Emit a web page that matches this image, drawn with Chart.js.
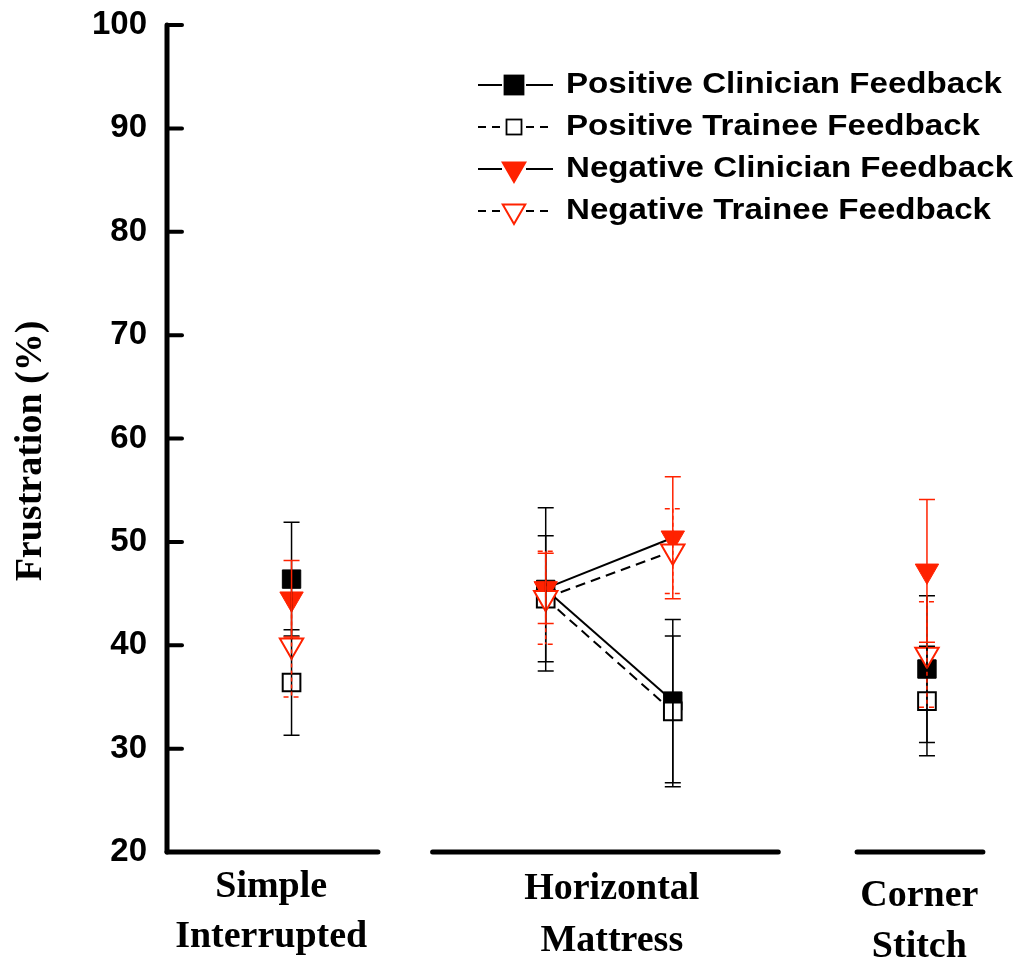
<!DOCTYPE html>
<html>
<head>
<meta charset="utf-8">
<script src="https://cdn.jsdelivr.net/npm/chart.js@4.4.0/dist/chart.umd.min.js"></script>
<style>
  html, body { margin: 0; padding: 0; background: #ffffff; }
  canvas { display: block; }
</style>
</head>
<body>
<canvas id="chart" width="1021" height="959"></canvas>
<script>
// ---- data ----
const techniqueLabels = [['Simple', 'Interrupted'], ['Horizontal', 'Mattress'], ['Corner', 'Stitch']];
// x position of each measurement (Horizontal Mattress has two measurements)
const xPositions = [0, 2, 3, 5];
const seriesNames = [
  'Positive Clinician Feedback',
  'Positive Trainee Feedback',
  'Negative Clinician Feedback',
  'Negative Trainee Feedback'
];
const posClinician    = [46.4, 45.4, 34.6, 37.7];
const posClinicianErr = [5.5, 7.9, 7.9, 7.1];
const posTrainee      = [36.4, 44.5, 33.6, 34.6];
const posTraineeErr   = [5.1, 6.1, 7.3, 5.3];
const negClinician    = [44.5, 45.5, 50.4, 47.2];
const negClinicianErr = [3.7, 3.4, 5.9, 6.9];
const negTrainee      = [40.0, 44.6, 49.1, 39.1];
const negTraineeErr   = [5.0, 4.5, 4.1, 5.1];
const yTickValues = [20, 30, 40, 50, 60, 70, 80, 90, 100];
const yTitle = 'Frustration (%)';

// ---- styling ----
const RED = '#ff2200';
const X_MIN = -0.98, X_MAX = 5.618;
const axisSegments = [[-0.98, 0.68], [1.11, 3.83], [4.45, 5.44]];
const labelAnchors = [
  { x: -0.16, y: [897, 947] },
  { x: 2.52, y: [899, 951] },
  { x: 4.94, y: [906, 957] }
];
const errStyles = [
  { color: '#000', dash: [] },
  { color: '#000', dash: [] },
  { color: RED, dash: [] },
  { color: RED, dash: [4, 3] }
];
const errors = [posClinicianErr, posTraineeErr, negClinicianErr, negTraineeErr];

function pts(values) {
  return values.map((v, i) => ({ x: xPositions[i], y: v }));
}
// only the two Horizontal Mattress measurements are joined by a line
const joinSegment = ctx => (ctx.p0DataIndex === 1 ? '#000' : 'rgba(0,0,0,0)');

const datasets = [
  {
    label: seriesNames[0], data: pts(posClinician), order: 3,
    pointStyle: 'rect', pointRadius: 13, pointBackgroundColor: '#000', pointBorderColor: '#000', pointBorderWidth: 1,
    borderColor: '#000', borderWidth: 2, segment: { borderColor: joinSegment }
  },
  {
    label: seriesNames[1], data: pts(posTrainee), order: 2,
    pointStyle: 'rect', pointRadius: 12.5, pointBackgroundColor: '#fff', pointBorderColor: '#000', pointBorderWidth: 2,
    borderColor: '#000', borderWidth: 2, borderDash: [10, 6], segment: { borderColor: joinSegment }
  },
  {
    label: seriesNames[2], data: pts(negClinician), order: 1,
    pointStyle: 'triangle', pointRotation: 180, pointRadius: 13.5, pointBackgroundColor: RED, pointBorderColor: RED, pointBorderWidth: 1,
    borderColor: '#000', borderWidth: 2, segment: { borderColor: joinSegment }
  },
  {
    label: seriesNames[3], data: pts(negTrainee), order: 0,
    pointStyle: 'triangle', pointRotation: 180, pointRadius: 13.5, pointBackgroundColor: '#fff', pointBorderColor: RED, pointBorderWidth: 2,
    borderColor: '#000', borderWidth: 2, borderDash: [10, 6], segment: { borderColor: joinSegment }
  }
];

// error bars, broken x axis, inward y ticks, category labels, y title, legend
const decorations = {
  id: 'decorations',
  afterDatasetsDraw(chart) {
    const ctx = chart.ctx;
    const xs = chart.scales.x, ys = chart.scales.y;
    const area = chart.chartArea;

    // error bars
    datasets.forEach((ds, di) => {
      const meta = chart.getDatasetMeta(di);
      const st = errStyles[di];
      ctx.save();
      ctx.strokeStyle = st.color;
      ctx.lineWidth = 1.5;
      meta.data.forEach((el, i) => {
        const v = ds.data[i].y, e = errors[di][i];
        const yt = ys.getPixelForValue(v + e);
        const yb = ys.getPixelForValue(v - e);
        const x = el.x;
        ctx.setLineDash(st.dash);
        ctx.beginPath();
        ctx.moveTo(x, yt); ctx.lineTo(x, yb);
        ctx.stroke();
        ctx.setLineDash(st.dash.length ? [5, 5] : []);
        ctx.beginPath();
        ctx.moveTo(x - 8, yt); ctx.lineTo(x + 8, yt);
        ctx.moveTo(x - 8, yb); ctx.lineTo(x + 8, yb);
        ctx.stroke();
      });
      ctx.restore();
    });

    // axes
    ctx.save();
    ctx.strokeStyle = '#000';
    ctx.lineCap = 'round';
    ctx.lineJoin = 'round';
    ctx.lineWidth = 5;
    const axX = area.left;
    ctx.beginPath();
    ctx.moveTo(axX, ys.getPixelForValue(100));
    ctx.lineTo(axX, area.bottom);
    ctx.stroke();
    ctx.lineWidth = 4;
    ys.ticks.forEach(t => {
      const y = ys.getPixelForValue(t.value);
      if (t.value === 20) return;
      ctx.beginPath();
      ctx.moveTo(axX, y); ctx.lineTo(axX + 15, y);
      ctx.stroke();
    });
    ctx.lineWidth = 5;
    axisSegments.forEach(([a, b]) => {
      ctx.beginPath();
      ctx.moveTo(xs.getPixelForValue(a), area.bottom);
      ctx.lineTo(xs.getPixelForValue(b), area.bottom);
      ctx.stroke();
    });
    ctx.restore();

    // category labels
    ctx.save();
    ctx.fillStyle = '#000';
    ctx.font = 'bold 38px "Liberation Serif", "Times New Roman", serif';
    ctx.textAlign = 'center';
    ctx.textBaseline = 'alphabetic';
    techniqueLabels.forEach((lines, i) => {
      const a = labelAnchors[i];
      const x = xs.getPixelForValue(a.x);
      lines.forEach((s, j) => ctx.fillText(s, x, a.y[j]));
    });
    ctx.restore();

    // y axis title
    ctx.save();
    ctx.fillStyle = '#000';
    ctx.font = 'bold 38px "Liberation Serif", "Times New Roman", serif';
    ctx.textAlign = 'center';
    ctx.textBaseline = 'middle';
    ctx.translate(31, 451);
    ctx.rotate(-Math.PI / 2);
    ctx.fillText(yTitle, 0, 0);
    ctx.restore();

    // legend
    ctx.save();
    const rows = [85, 127, 169, 211];
    const textX = 566;
    ctx.font = 'bold 29px "Liberation Sans", Arial, sans-serif';
    const stretch = 436 / ctx.measureText(seriesNames[0]).width;
    datasets.forEach((ds, i) => {
      const y = rows[i];
      const dashed = i % 2 === 1;
      ctx.strokeStyle = '#000';
      ctx.lineWidth = 1.8;
      ctx.setLineDash(dashed ? [8, 6] : []);
      ctx.beginPath();
      ctx.moveTo(478, y); ctx.lineTo(502, y);
      ctx.moveTo(526, y); ctx.lineTo(553, y);
      ctx.stroke();
      ctx.setLineDash([]);
      const cx = 514;
      if (i < 2) {
        const s = i === 0 ? 19 : 15;
        ctx.fillStyle = i === 0 ? '#000' : '#fff';
        ctx.fillRect(cx - s / 2, y - s / 2, s, s);
        ctx.lineWidth = 1.8;
        ctx.strokeStyle = '#000';
        ctx.strokeRect(cx - s / 2, y - s / 2, s, s);
      } else {
        const r = 13;
        ctx.beginPath();
        ctx.moveTo(cx, y + r);
        ctx.lineTo(cx - 0.866 * r, y - 0.5 * r);
        ctx.lineTo(cx + 0.866 * r, y - 0.5 * r);
        ctx.closePath();
        ctx.fillStyle = i === 2 ? RED : '#fff';
        ctx.fill();
        ctx.lineWidth = 2;
        ctx.strokeStyle = RED;
        ctx.stroke();
      }
      ctx.save();
      ctx.fillStyle = '#000';
      ctx.textAlign = 'left';
      ctx.textBaseline = 'middle';
      ctx.translate(textX, y);
      ctx.scale(stretch, 1);
      ctx.fillText(seriesNames[i], 0, 0);
      ctx.restore();
    });
    ctx.restore();
  }
};

new Chart(document.getElementById('chart'), {
  type: 'line',
  data: { datasets },
  options: {
    responsive: false,
    animation: false,
    layout: { padding: { left: 8, top: 25, right: 8, bottom: 107 } },
    plugins: { legend: { display: false }, tooltip: { enabled: false } },
    scales: {
      x: { type: 'linear', min: X_MIN, max: X_MAX, display: false },
      y: {
        type: 'linear', min: 20, max: 100,
        afterFit(scale) {
          scale.width = 159;
          scale.paddingTop = 0;
          scale.paddingBottom = 0;
        },
        afterBuildTicks(scale) { scale.ticks = yTickValues.map(v => ({ value: v })); },
        grid: { display: false, drawTicks: false },
        border: { display: false },
        ticks: {
          padding: 20,
          color: '#000',
          font: { family: '"Liberation Sans", Arial, sans-serif', size: 33, weight: 'bold' }
        }
      }
    }
  },
  plugins: [decorations]
});
</script>
</body>
</html>
